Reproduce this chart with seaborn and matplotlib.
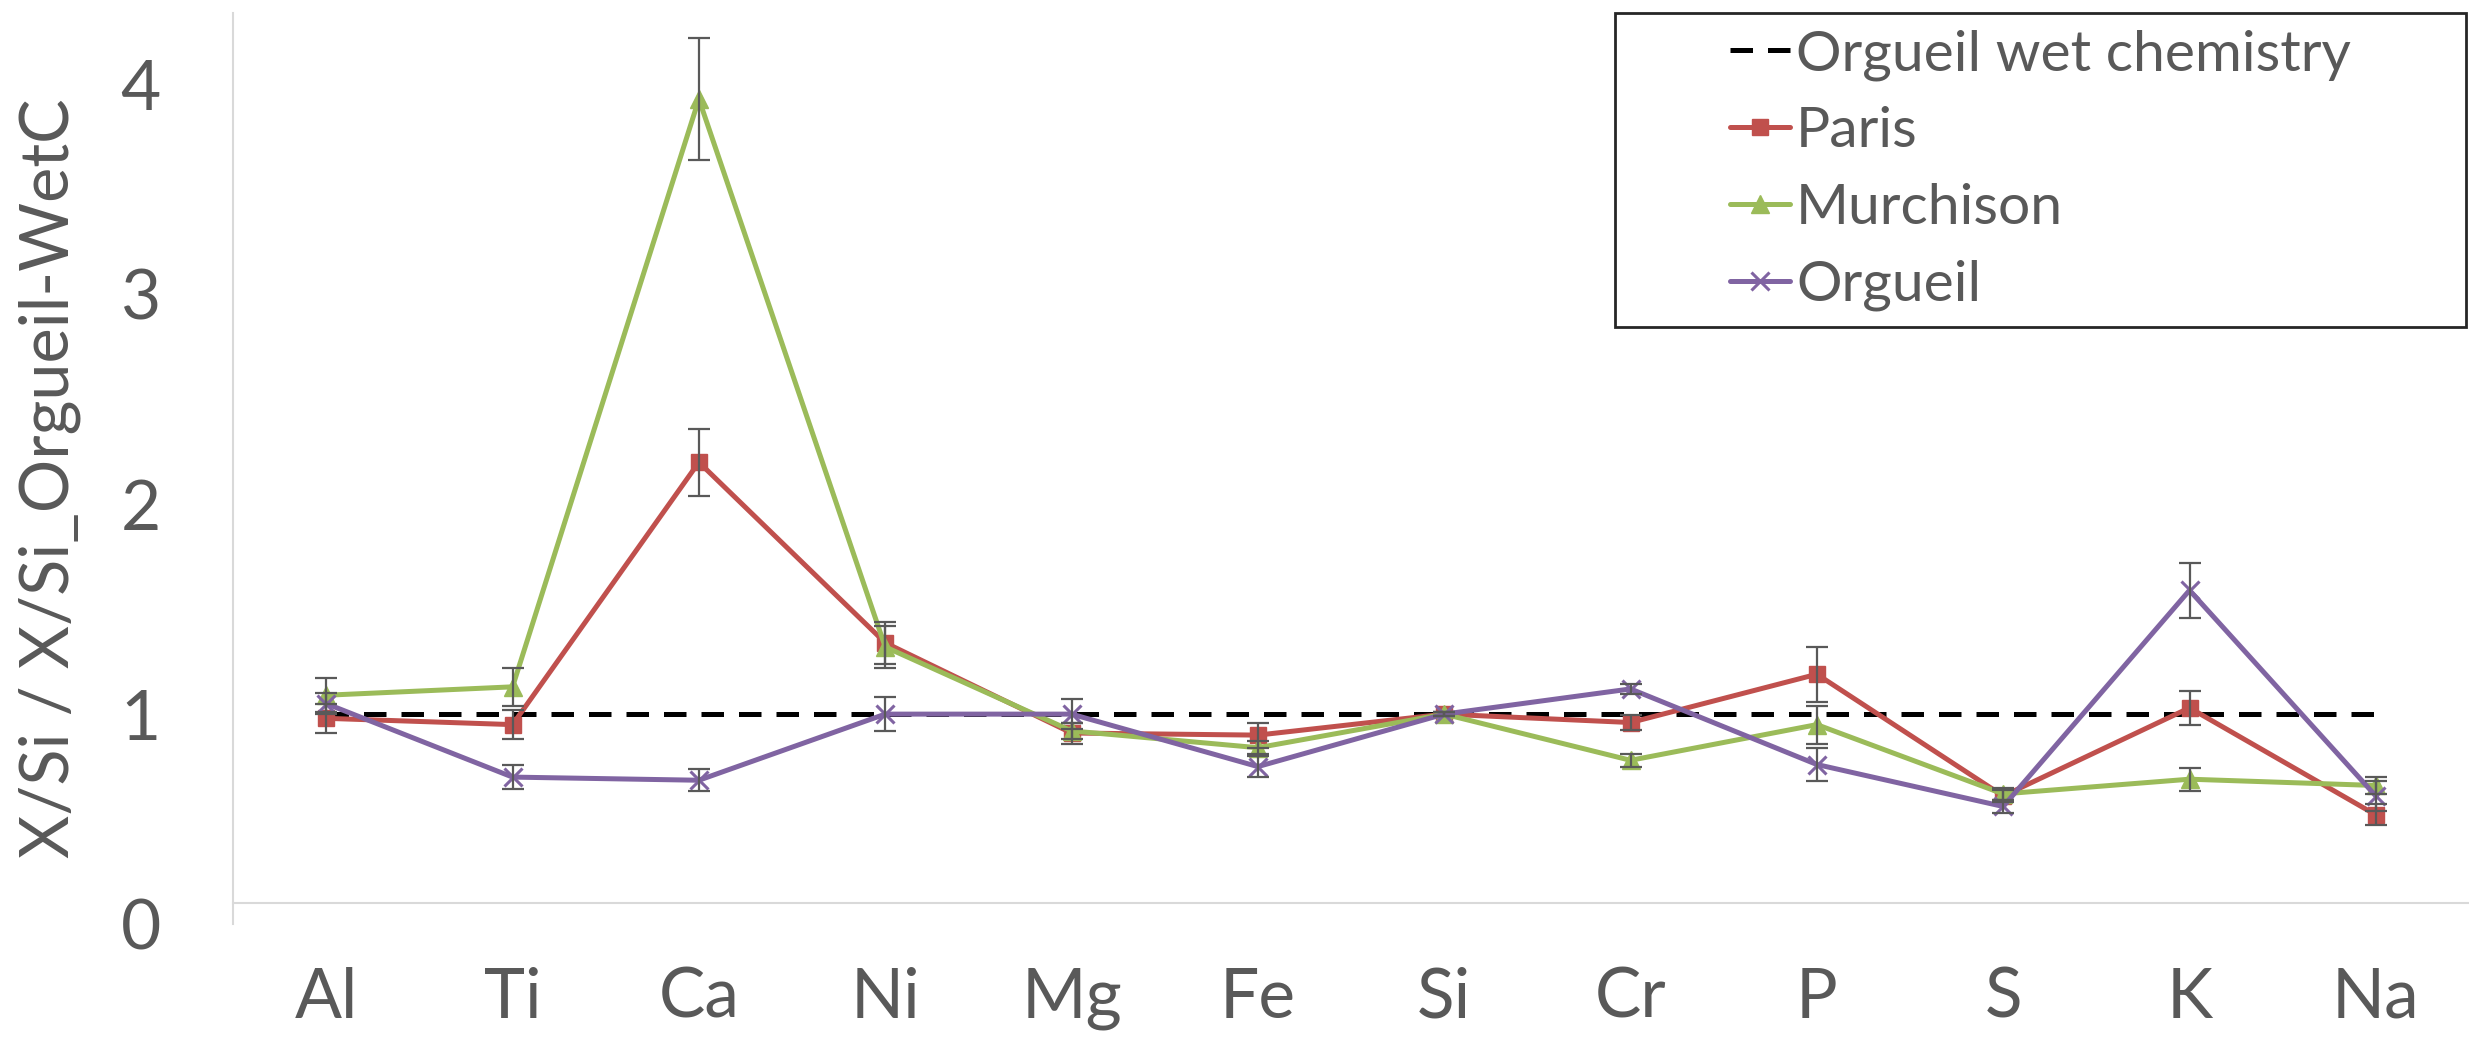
import matplotlib
matplotlib.use("Agg")
import matplotlib.pyplot as plt
import seaborn as sns
from matplotlib.patches import Rectangle

# Element ratios normalised to Si and to Orgueil wet chemistry
elements = ["Al", "Ti", "Ca", "Ni", "Mg", "Fe", "Si", "Cr", "P", "S", "K", "Na"]
wet_chem = [1.0, 1.0, 1.0, 1.0, 1.0, 1.0, 1.0, 1.0, 1.0, 1.0, 1.0, 1.0]

paris = [0.98, 0.95, 2.20, 1.34, 0.91, 0.90, 1.00, 0.96, 1.19, 0.61, 1.03, 0.52]
paris_err = [0.07, 0.07, 0.16, 0.10, 0.05, 0.06, 0.01, 0.035, 0.13, 0.03, 0.08, 0.05]

murchison = [1.09, 1.13, 3.93, 1.32, 0.92, 0.84, 1.00, 0.78, 0.95, 0.62, 0.69, 0.66]
murchison_err = [0.08, 0.09, 0.29, 0.10, 0.04, 0.03, 0.01, 0.03, 0.09, 0.03, 0.055, 0.04]

orgueil = [1.05, 0.70, 0.685, 1.00, 1.00, 0.75, 1.00, 1.12, 0.76, 0.56, 1.59, 0.61]
orgueil_err = [0.05, 0.057, 0.053, 0.08, 0.07, 0.05, 0.01, 0.025, 0.08, 0.03, 0.13, 0.07]

series = [
    ("Paris", paris, paris_err, "#C0504D", "s", 12),
    ("Murchison", murchison, murchison_err, "#9BBB59", "^", 13),
    ("Orgueil", orgueil, orgueil_err, "#8064A2", "x", 13),
]

sns.set_style("white")
plt.rcParams["font.family"] = ["Lato", "DejaVu Sans"]
TEXT = "#595959"
AXIS = "#D9D9D9"

fig = plt.figure(figsize=(24.69, 10.40), dpi=100)
ax = fig.add_axes([0.0944, 0.1115, 0.9056, 0.876])

sns.lineplot(x=elements, y=wet_chem, ax=ax, color="black", linewidth=3.6,
             linestyle=(0, (4.5, 3)), estimator=None, sort=False,
             label="Orgueil wet chemistry", zorder=2)

for name, vals, errs, col, mk, ms in series:
    sns.lineplot(x=elements, y=vals, ax=ax, color=col, linewidth=3.6,
                 marker=mk, markersize=ms, markeredgecolor=col,
                 markeredgewidth=2.2 if mk == "x" else 1,
                 estimator=None, sort=False, label=name, zorder=3)

for name, vals, errs, col, mk, ms in series:
    ax.errorbar(elements, vals, yerr=errs, fmt="none", ecolor=TEXT,
                elinewidth=1.6, capsize=8, capthick=1.6, zorder=5)

ax.set_xlim(-0.5, 11.5)
ax.set_ylim(0, 4.34)
ax.set_yticks([0, 1, 2, 3, 4])
ax.set_xlabel("")
ax.set_ylabel("")

for side in ("top", "right"):
    ax.spines[side].set_visible(False)
for side in ("left", "bottom"):
    ax.spines[side].set_color(AXIS)
    ax.spines[side].set_linewidth(1.5)
ax.spines["bottom"].set_position(("data", 0.1))

ax.tick_params(axis="both", length=0, labelsize=50, colors=TEXT)
ax.tick_params(axis="y", pad=52)
ax.tick_params(axis="x", pad=46)
ax.grid(False)

fig.text(50 / 2469, 1 - 478 / 1040, "X/Si / X/Si_Orgueil-WetC",
         rotation=90, ha="center", va="center", fontsize=48, color=TEXT)

# Legend box in the upper right corner
x0, x1 = 1615 / 2469, 2466 / 2469
y0, y1 = 1 - 327 / 1040, 1 - 13 / 1040
ax.add_patch(Rectangle((x0, y0), x1 - x0, y1 - y0, transform=fig.transFigure,
                       fill=False, edgecolor="#262626", linewidth=2,
                       clip_on=False, zorder=10))
leg = ax.legend(frameon=False, loc="center",
                bbox_to_anchor=((x0 + x1) / 2, (y0 + y1) / 2),
                bbox_transform=fig.transFigure, fontsize=41,
                handlelength=1.06, handletextpad=0.1, labelspacing=0.45,
                borderpad=0)
for t in leg.get_texts():
    t.set_color(TEXT)

fig.savefig("out.png", dpi=100)
